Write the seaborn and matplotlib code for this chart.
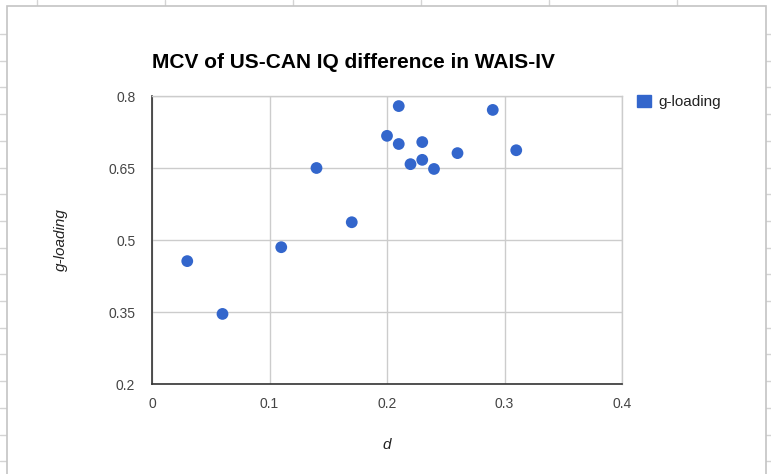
"""
MCV scatter: US-CAN IQ difference (d) vs g-loading, WAIS-IV subtests.
Drawn to look like the Google Sheets chart it came from.
"""

import numpy as np
import pandas as pd
import matplotlib
matplotlib.use("Agg")
import matplotlib.pyplot as plt
from matplotlib.lines import Line2D
from matplotlib.patches import Patch, Rectangle
import seaborn as sns

# ── Data ────────────────────────────────────────────────────
d_values = [0.03, 0.06, 0.11, 0.14, 0.17, 0.20, 0.21, 0.21,
            0.22, 0.23, 0.23, 0.24, 0.26, 0.29, 0.31]
g_loadings = [0.456, 0.346, 0.485, 0.650, 0.537, 0.717, 0.779, 0.700,
              0.658, 0.704, 0.667, 0.648, 0.681, 0.771, 0.687]

TITLE = "MCV of US-CAN IQ difference in WAIS-IV"
X_LABEL = "d"
Y_LABEL = "g-loading"
SERIES = "g-loading"
X_TICKS = [0, 0.1, 0.2, 0.3, 0.4]
X_TICK_LABELS = ["0", "0.1", "0.2", "0.3", "0.4"]
Y_TICKS = [0.2, 0.35, 0.5, 0.65, 0.8]
Y_TICK_LABELS = ["0.2", "0.35", "0.5", "0.65", "0.8"]

BLUE = "#3366cc"
GRID = "#cccccc"
SHEET = "#d4d4d4"
W, H = 771, 474

sns.set_theme(style="white")
plt.rcParams["font.family"] = ["Liberation Sans", "DejaVu Sans"]

df = pd.DataFrame({"d": d_values, "g": g_loadings})

fig = plt.figure(figsize=(W / 100, H / 100), dpi=100)
fig.patch.set_facecolor("white")


def px(x, y):
    # pixel coords (top-left origin) -> figure fraction
    return x / W, 1 - y / H


# ── Spreadsheet cells behind the chart ──────────────────────
for xv in [37, 165, 293, 421, 549, 677]:
    (x0, y0), (x1, y1) = px(xv, 0), px(xv, 6)
    fig.add_artist(Line2D([x0, x1], [y0, y1], color=SHEET, lw=1, zorder=-10))
for yv in np.arange(34, H, 26.7):
    (x0, y0), (x1, y1) = px(0, yv), px(7, yv)
    fig.add_artist(Line2D([x0, x1], [y0, y1], color=SHEET, lw=1, zorder=-10))
    (x0, y0), (x1, y1) = px(766, yv), px(W, yv)
    fig.add_artist(Line2D([x0, x1], [y0, y1], color=SHEET, lw=1, zorder=-10))
bx, by = px(7, H + 5)
bx2, by2 = px(766, 5.5)
fig.add_artist(Rectangle((bx, by), bx2 - bx, by2 - by, transform=fig.transFigure,
                         facecolor="white", edgecolor="#c4c4c4", lw=1.2, zorder=-5))

# ── Chart ───────────────────────────────────────────────────
left, top = px(152, 96)
right, bottom = px(622, 384)
ax = fig.add_axes([left, bottom, right - left, top - bottom])
ax.set_facecolor("white")

sns.scatterplot(data=df, x="d", y="g", ax=ax, color=BLUE, s=72,
                edgecolor="none", legend=False, zorder=3)

ax.set_xlim(0, 0.4)
ax.set_ylim(0.2, 0.8)
ax.set_xticks(X_TICKS)
ax.set_xticklabels(X_TICK_LABELS)
ax.set_yticks(Y_TICKS)
ax.set_yticklabels(Y_TICK_LABELS)
ax.tick_params(axis="both", length=0, labelsize=10, colors="#444444")
ax.tick_params(axis="x", pad=9)
ax.tick_params(axis="y", pad=12)
ax.grid(True, color=GRID, lw=1)
ax.set_axisbelow(True)

for side in ["top", "right"]:
    ax.spines[side].set_color(GRID)
    ax.spines[side].set_linewidth(1)
for side in ["left", "bottom"]:
    ax.spines[side].set_color("#333333")
    ax.spines[side].set_linewidth(1.2)

ax.set_xlabel(X_LABEL, fontstyle="italic", fontsize=11, color="#222222", labelpad=20)
ax.set_ylabel(Y_LABEL, fontstyle="italic", fontsize=11, color="#222222", labelpad=29)

tx, ty = px(152, 62)
fig.text(tx, ty, TITLE, fontsize=15, fontweight="bold", color="#000000",
         ha="left", va="center")

lx, ly = px(637, 102)
fig.legend(handles=[Patch(facecolor=BLUE, edgecolor=BLUE, label=SERIES)],
           loc="center left", bbox_to_anchor=(lx, ly), frameon=False,
           fontsize=11, labelcolor="#222222", handlelength=0.9, handleheight=0.9,
           handletextpad=0.5, borderaxespad=0, borderpad=0)

fig.savefig("out.png", dpi=100)
plt.close(fig)
